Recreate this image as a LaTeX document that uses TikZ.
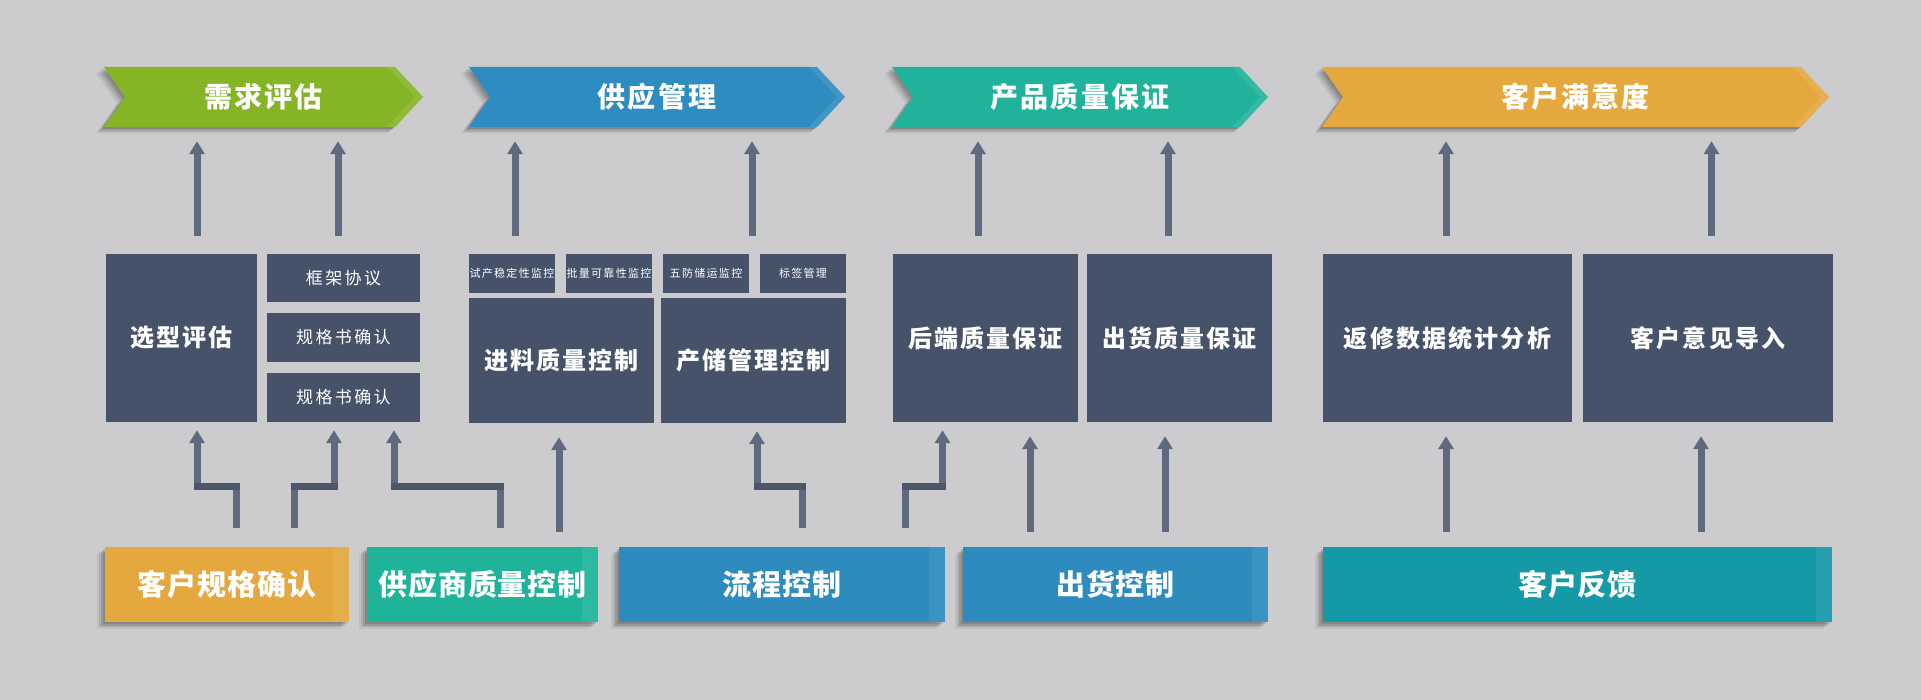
\documentclass[tikz,border=0pt]{standalone}
\usepackage{fontspec}
\newfontfamily\cjkH{Noto Sans CJK SC}[LetterSpace=8]
\newfontfamily\cjkB{Noto Sans CJK SC}[LetterSpace=3]
\newfontfamily\cjkM{Noto Sans CJK SC}[LetterSpace=9]
\newfontfamily\cjkS{Noto Sans CJK SC}[LetterSpace=14]
\newfontfamily\cjkT{Noto Sans CJK SC}[LetterSpace=12]
\usetikzlibrary{arrows.meta,shadows,calc}
\definecolor{bgc}{RGB}{204,204,206}
\definecolor{boxc}{RGB}{70,82,105}
\definecolor{arrc}{RGB}{96,106,126}
\definecolor{arrd}{RGB}{78,87,106}
\definecolor{hgreen}{RGB}{133,180,38}
\definecolor{hblue}{RGB}{47,140,192}
\definecolor{hteal}{RGB}{33,178,155}
\definecolor{horange}{RGB}{228,168,63}
\definecolor{bteal}{RGB}{31,180,154}
\definecolor{bblue}{RGB}{45,139,189}
\definecolor{bcyan}{RGB}{22,153,167}
\tikzset{
  x=1pt, y=-1pt,
  sh/.style={drop shadow={shadow xshift=-2pt, shadow yshift=-2pt, opacity=.12, fill=black},
             drop shadow={shadow xshift=-4pt, shadow yshift=-3.5pt, opacity=.11, fill=black},
             drop shadow={shadow xshift=-6pt, shadow yshift=-5pt, opacity=.09, fill=black},
             drop shadow={shadow xshift=-8pt, shadow yshift=-6.5pt, opacity=.06, fill=black}},
  htext/.style={inner sep=0pt, text=white, font=\cjkH\bfseries\fontsize{28}{30}\selectfont},
  bbox/.style={inner sep=0pt, text=white, sh, minimum height=75pt, font=\cjkB\bfseries\fontsize{29}{32}\selectfont},
  mbox/.style={inner sep=0pt, fill=boxc, text=white, font=\cjkM\bfseries\fontsize{24}{28}\selectfont},
  sbox/.style={inner sep=0pt, fill=boxc, text=white, minimum width=153pt, minimum height=49pt, font=\cjkS\fontsize{17}{20}\selectfont},
  tbox/.style={inner sep=0pt, fill=boxc, text=white, minimum width=86pt, minimum height=39pt, font=\cjkT\fontsize{11}{13}\selectfont},
  conn/.style={draw=arrc, line width=7pt, line join=miter, -{Triangle[width=15pt,length=13pt]}},
  hseg/.style={draw=arrd, line width=7pt, line cap=rect},
}
\newcommand{\chev}[3]{%
  \fill[#3, sh] (#1,67) -- ({#2-28},67) -- (#2,97) -- ({#2-28},127) -- (#1,127) -- ({#1+21},97) -- cycle;
  \fill[white, opacity=.09] ({#2-36},67) -- ({#2-28},67) -- (#2,97) -- ({#2-28},127) -- ({#2-36},127) -- ({#2-8},97) -- cycle;}
\newcommand{\lstrip}[1]{\fill[white, opacity=.07] ($(#1.north east)+(-16,0)$) rectangle (#1.south east);}
\begin{document}
\begin{tikzpicture}
\fill[bgc] (0,0) rectangle (1921,700);
\useasboundingbox (0,0) rectangle (1921,700);

% headers
\chev{104}{423}{hgreen}
\chev{469}{845}{hblue}
\chev{892}{1268}{hteal}
\chev{1322}{1829}{horange}
\node[htext, minimum width=319pt, minimum height=60pt] (h1) at (263.5,97) {需求评估};
\node[htext, minimum width=376pt, minimum height=60pt] (h2) at (657,97) {供应管理};
\node[htext, minimum width=376pt, minimum height=60pt] (h3) at (1080,97) {产品质量保证};
\node[htext, minimum width=507pt, minimum height=60pt] (h4) at (1575.5,97) {客户满意度};

% middle boxes
\node[mbox, minimum width=151pt, minimum height=168pt] (sel) at (181.5,338) {选型评估};
\node[sbox, minimum height=48pt] (kj) at (343.5,278) {框架协议};
\node[sbox] (gg1) at (343.5,337.5) {规格书确认};
\node[sbox] (gg2) at (343.5,397.5) {规格书确认};
\node[tbox] (sc) at (512,273.5) {试产稳定性监控};
\node[tbox] (pl) at (609,273.5) {批量可靠性监控};
\node[tbox] (wf) at (706,273.5) {五防储运监控};
\node[tbox] (bq) at (803,273.5) {标签管理};
\node[mbox, minimum width=185pt, minimum height=125pt] (jl) at (561.5,360.5) {进料质量控制};
\node[mbox, minimum width=185pt, minimum height=125pt] (cc) at (753.5,360.5) {产储管理控制};
\node[mbox, minimum width=185pt, minimum height=168pt] (hd) at (985.5,338) {后端质量保证};
\node[mbox, minimum width=185pt, minimum height=168pt] (ch) at (1179.5,338) {出货质量保证};
\node[mbox, minimum width=249pt, minimum height=168pt] (fx) at (1447.5,338) {返修数据统计分析};
\node[mbox, minimum width=250pt, minimum height=168pt] (ky) at (1708,338) {客户意见导入};

% bottom boxes
\node[bbox, fill=horange, minimum width=244pt] (b1) at (227,584.5) {客户规格确认};
\node[bbox, fill=bteal, minimum width=231pt] (b2) at (482.5,584.5) {供应商质量控制};
\node[bbox, fill=bblue, minimum width=326pt] (b3) at (782,584.5) {流程控制};
\node[bbox, fill=bblue, minimum width=305pt] (b4) at (1115.5,584.5) {出货控制};
\node[bbox, fill=bcyan, minimum width=509pt] (b5) at (1577.5,584.5) {客户反馈};
\foreach \b in {b1,b2,b3,b4,b5} {\lstrip{\b}}

% upper arrows
\draw[conn] ($(sel.north)+(15.5,-18)$) coordinate (u1) -- ($(u1 |- h1.south)+(0,14)$);
\draw[conn] ($(kj.north)+(-5.5,-18)$) coordinate (u2) -- ($(u2 |- h1.south)+(0,14)$);
\draw[conn] ($(sc.north)+(3,-18)$) coordinate (u3) -- ($(u3 |- h2.south)+(0,14)$);
\draw[conn] ($(bq.north)+(-51,-18)$) coordinate (u4) -- ($(u4 |- h2.south)+(0,14)$);
\draw[conn] ($(hd.north)+(-7.5,-18)$) coordinate (u5) -- ($(u5 |- h3.south)+(0,14)$);
\draw[conn] ($(ch.north)+(-11.5,-18)$) coordinate (u6) -- ($(u6 |- h3.south)+(0,14)$);
\draw[conn] ($(fx.north)+(-1.5,-18)$) coordinate (u7) -- ($(u7 |- h4.south)+(0,14)$);
\draw[conn] ($(ky.north)+(3.5,-18)$) coordinate (u8) -- ($(u8 |- h4.south)+(0,14)$);

% lower elbow connectors
\draw[conn] ($(b1.north)+(9,-19)$) -- ++(0,-41) coordinate (e1) -| ($(sel.south)+(15.5,8)$) coordinate (t1);
\draw[hseg] (e1) -- (e1 -| t1);
\draw[conn] ($(b1.north)+(67,-19)$) -- ++(0,-41) coordinate (e2) -| ($(gg2.south)+(-9.5,8)$) coordinate (t2);
\draw[hseg] (e2) -- (e2 -| t2);
\draw[conn] ($(b2.north)+(17.5,-19)$) -- ++(0,-41) coordinate (e3) -| ($(gg2.south)+(50.5,8)$) coordinate (t3);
\draw[hseg] (e3) -- (e3 -| t3);
\draw[conn] ($(b3.north)+(20,-19)$) -- ++(0,-41) coordinate (e5) -| ($(cc.south)+(3.5,8)$) coordinate (t5);
\draw[hseg] (e5) -- (e5 -| t5);
\draw[conn] ($(b3.north)+(123,-19)$) -- ++(0,-41) coordinate (e6) -| ($(hd.south)+(-43,8)$) coordinate (t6);
\draw[hseg] (e6) -- (e6 -| t6);

% lower straight arrows
\draw[conn] ($(b2.north)+(76.5,-15)$) coordinate (s1) -- ($(s1 |- jl.south)+(0,14)$);
\draw[conn] ($(b4.north)+(-85.5,-15)$) coordinate (s2) -- ($(s2 |- hd.south)+(0,14)$);
\draw[conn] ($(b4.north)+(49.5,-15)$) coordinate (s3) -- ($(s3 |- ch.south)+(0,14)$);
\draw[conn] ($(b5.north)+(-131.5,-15)$) coordinate (s4) -- ($(s4 |- fx.south)+(0,14)$);
\draw[conn] ($(b5.north)+(123.5,-15)$) coordinate (s5) -- ($(s5 |- ky.south)+(0,14)$);
\end{tikzpicture}
\end{document}
